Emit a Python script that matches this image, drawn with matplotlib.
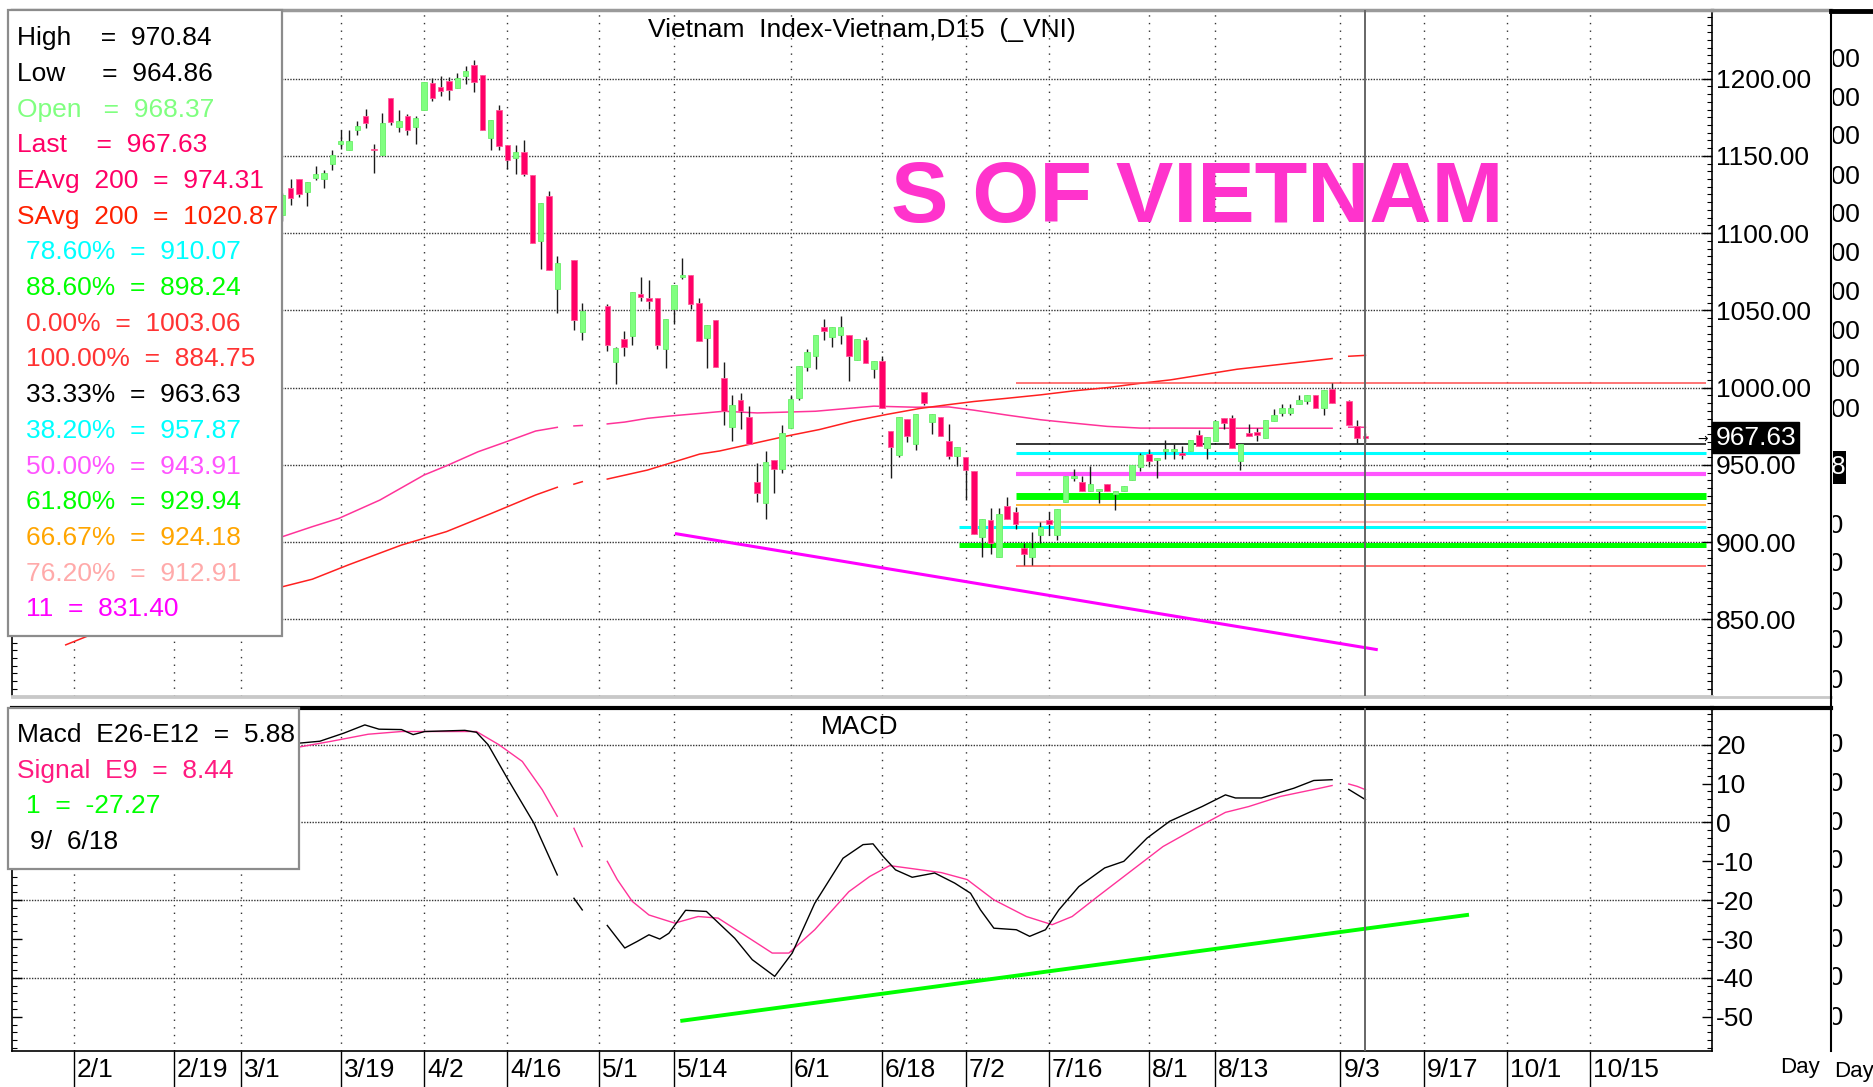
import numpy as np
import matplotlib
matplotlib.use("Agg")
import matplotlib.pyplot as plt
import matplotlib.transforms as mtransforms
from matplotlib import font_manager
from matplotlib.patches import Rectangle
from matplotlib.ticker import MultipleLocator, FixedLocator

W, H, DPI = 1873, 1087, 100

# ---- daily bars, x = trading-day index counted from 2/1 ----
bar_day = list(range(25, 59)) + [60, 61] + list(range(64, 152)) + [153, 154, 155]
bar_open = [1111.6, 1129.3, 1135.3, 1126.7, 1135.7, 1134.7, 1144.6, 1157.5, 1153.6, 1166.6,
            1175.6, 1154.7, 1150.4, 1187.5, 1168.7, 1175.6, 1168.7, 1179.9, 1197.4, 1194.6,
            1198.5, 1194.0, 1201.9, 1208.6, 1202.6, 1161.6, 1179.5, 1157.3, 1148.5, 1152.8,
            1137.7, 1095.0, 1123.7, 1063.8, 1082.5, 1035.7, 1052.5, 1016.7, 1031.4, 1033.6,
            1060.5, 1057.7, 1057.7, 1024.9, 1050.8, 1071.3, 1072.8, 1054.7, 1032.1, 1043.7,
            1006.3, 974.6, 992.3, 981.1, 938.9, 925.5, 953.1, 947.5, 974.0, 993.4,
            1013.4, 1020.7, 1039.2, 1032.8, 1033.8, 1034.3, 1017.7, 1031.0, 1012.3, 1017.5,
            971.8, 956.3, 980.0, 963.2, 997.2, 977.6, 981.2, 965.2, 955.5, 955.3,
            946.3, 903.3, 914.1, 890.4, 923.3, 919.4, 896.2, 890.4, 904.8, 914.1,
            904.8, 925.9, 941.6, 939.2, 932.8, 932.8, 937.3, 931.3, 932.8, 940.5,
            948.4, 957.0, 953.2, 959.1, 959.1, 957.5, 959.1, 969.2, 961.2, 965.5,
            980.6, 980.2, 952.6, 970.9, 971.3, 967.7, 978.4, 983.4, 983.8, 989.7,
            991.4, 995.3, 987.1, 999.4, 991.4, 975.2, 968.37]
bar_high = [1126.0, 1135.3, 1135.3, 1133.2, 1143.3, 1141.1, 1153.6, 1166.6, 1166.6, 1172.6,
            1180.6, 1157.5, 1177.8, 1187.5, 1179.5, 1176.9, 1175.6, 1197.8, 1200.4, 1201.7,
            1201.1, 1203.9, 1208.0, 1211.9, 1202.6, 1173.5, 1182.8, 1157.3, 1157.1, 1160.1,
            1137.7, 1119.8, 1127.4, 1084.9, 1082.5, 1054.7, 1054.1, 1026.5, 1036.8, 1061.6,
            1071.7, 1069.6, 1058.3, 1044.4, 1066.6, 1083.8, 1072.8, 1057.9, 1040.5, 1043.7,
            1016.4, 994.9, 996.2, 988.0, 951.4, 958.9, 953.1, 976.1, 994.9, 1013.8,
            1025.2, 1033.8, 1044.4, 1039.2, 1046.1, 1034.3, 1031.5, 1032.8, 1017.5, 1020.3,
            971.8, 980.9, 980.0, 983.0, 997.2, 983.0, 981.2, 976.4, 961.3, 955.3,
            946.3, 915.1, 922.2, 922.2, 929.5, 922.7, 899.7, 906.6, 913.0, 919.4,
            921.2, 942.6, 947.4, 942.6, 949.5, 934.5, 937.3, 932.8, 936.6, 949.9,
            957.7, 960.3, 954.5, 966.0, 963.4, 962.3, 966.0, 972.6, 968.1, 978.4,
            980.6, 982.3, 963.4, 976.3, 974.1, 979.1, 986.4, 989.7, 989.7, 995.3,
            995.3, 995.3, 998.3, 1002.8, 992.0, 979.1, 970.84]
bar_low = [1108.0, 1118.5, 1123.5, 1117.4, 1134.2, 1129.5, 1140.7, 1154.7, 1153.6, 1163.3,
           1168.3, 1138.6, 1150.4, 1169.8, 1165.5, 1163.8, 1157.5, 1179.9, 1185.6, 1188.6,
           1186.4, 1194.0, 1196.8, 1191.4, 1166.6, 1153.6, 1153.6, 1141.5, 1138.1, 1137.1,
           1093.9, 1076.7, 1076.0, 1048.0, 1037.5, 1030.8, 1023.4, 1002.5, 1020.6, 1027.7,
           1055.8, 1050.8, 1024.9, 1012.7, 1041.1, 1070.2, 1050.8, 1029.9, 1012.7, 1013.5,
           976.1, 965.4, 973.3, 963.2, 926.2, 915.2, 931.5, 944.5, 974.0, 992.3,
           1011.0, 1012.3, 1030.6, 1026.3, 1028.5, 1004.6, 1017.7, 1016.0, 1006.3, 986.5,
           941.2, 955.0, 964.9, 959.3, 988.6, 970.1, 968.5, 953.8, 949.5, 927.0,
           905.5, 890.4, 892.6, 890.4, 914.7, 908.7, 885.5, 885.5, 899.5, 904.8,
           901.6, 925.9, 939.8, 932.8, 932.8, 925.5, 932.8, 920.5, 932.8, 940.5,
           946.3, 949.9, 941.4, 954.1, 954.1, 953.7, 959.1, 962.3, 954.1, 965.5,
           973.1, 960.6, 946.8, 968.8, 965.5, 967.7, 978.4, 981.7, 982.3, 989.7,
           989.2, 987.1, 982.3, 989.9, 975.6, 964.4, 964.86]
bar_close = [1124.5, 1122.4, 1125.6, 1133.2, 1138.1, 1139.2, 1150.4, 1159.5, 1159.5, 1169.4,
             1171.5, 1153.6, 1171.5, 1172.0, 1172.4, 1166.6, 1174.6, 1197.8, 1187.7, 1191.8,
             1192.9, 1200.4, 1204.7, 1197.8, 1166.6, 1173.5, 1156.4, 1147.6, 1152.8, 1138.1,
             1093.9, 1119.8, 1076.0, 1080.6, 1043.7, 1049.7, 1027.7, 1025.6, 1026.0, 1061.6,
             1058.8, 1055.8, 1027.7, 1044.4, 1066.6, 1072.8, 1054.1, 1029.9, 1040.5, 1013.5,
             984.7, 989.0, 984.7, 963.2, 931.5, 952.0, 947.5, 970.7, 992.9, 1013.8,
             1023.1, 1033.8, 1036.4, 1039.2, 1039.2, 1020.7, 1031.5, 1016.0, 1017.5, 986.5,
             961.5, 980.9, 968.6, 983.0, 990.1, 983.0, 968.5, 956.0, 961.3, 946.7,
             905.5, 915.1, 899.7, 918.4, 914.7, 911.5, 892.6, 896.2, 909.8, 911.9,
             921.2, 942.6, 942.6, 932.8, 937.3, 934.5, 932.8, 932.8, 936.6, 949.9,
             956.4, 952.7, 954.5, 960.1, 960.1, 956.3, 966.0, 962.3, 968.1, 978.4,
             977.4, 960.6, 963.4, 968.8, 969.4, 979.1, 982.3, 987.1, 987.1, 992.0,
             995.3, 987.1, 998.3, 989.9, 975.6, 967.2, 967.63]

# ---- moving averages (nan = holiday break) ----
eavg_day = [25, 28.6, 31.8, 36.7, 42, 44.7, 48.5, 51.9, 55.4, 58, np.nan, 60, 61, np.nan,
            64, 66.1, 68.8, 71.5, 75.1, 78, 82, 89, 96, 101, 105, 108, 112, 116, 120, 124,
            128, 132, 140, 151, np.nan, 153, 155]
eavg_val = [903.5, 910.0, 915.4, 927.2, 943.4, 949.4, 958.5, 965.0, 971.9, 974.3, np.nan, 975.2,
            975.5, np.nan, 976.5, 977.7, 980.1, 981.6, 983.3, 984.7, 983.6, 984.7, 988.0, 987.3,
            987.5, 985.4, 982.2, 979.2, 977.0, 974.9, 973.8, 973.8, 973.7, 973.7, np.nan,
            974.4, 974.31]
savg_day = [-1, 2, 25, 28.6, 32.9, 39.3, 44.7, 50.1, 55.4, 58, np.nan, 60, 61, np.nan, 64, 68.8,
            75.1, 77.5, 81.5, 85.5, 89.5, 93.5, 97.5, 101.5, 105, 108, 112, 116, 120, 124, 128,
            131.6, 139.6, 151, np.nan, 153, 155]
savg_val = [833.5, 840.0, 871.1, 876.0, 885.2, 898.1, 906.8, 918.6, 930.5, 935.5, np.nan, 937.5,
            939.1, np.nan, 940.8, 946.6, 957.0, 959.0, 963.8, 968.6, 972.9, 978.3, 982.6, 986.5,
            989.0, 991.0, 993.1, 995.3, 997.9, 1000.0, 1002.8, 1005.0, 1011.9, 1018.8, np.nan,
            1020.3, 1020.87]

# ---- retracement levels ----
fib_level = [1003.06, 884.75, 963.63, 957.87, 943.91, 929.94, 924.18, 912.91, 910.07, 898.24]
fib_start = [113, 113, 113, 113, 113, 113, 113, 113, 106.2, 106.2]
fib_color = ['#FF5050', '#FF5050', '#000000', '#00FFFF', '#FF55FF', '#00FF00',
             '#FFA500', '#FFB4B4', '#00FFFF', '#00FF00']
fib_width = [1.1, 1.1, 1.1, 2.2, 3.0, 5.0, 1.1, 1.5, 2.2, 3.6]

# ---- trendlines ----
price_trend_day = [72.3, 156.3]
price_trend_val = [905.4, 830.5]
macd_trend_day = [73.0, 167.2]
macd_trend_val = [-51.0, -23.8]

# ---- MACD ----
macd_day = [27, 29.5, 32.4, 34.9, 36.6, 39.3, 40.7, 42.1, 46.9, 48.3, 49.7, 52.1, 55.2, 58,
            np.nan, 60, 61, np.nan, 64, 66.1, 67.6, 69, 70.3, 71.4, 73.4, 75.9, 79.3, 81.4, 84.1,
            86.2, 88.9, 92.3, 94.7, 95.9, 97.1, 98.6, 100.6, 103.3, 105.7, 107.6, 108.8, 110.4,
            113.1, 114.7, 116.6, 118.2, 120.6, 123.7, 126, 128.8, 131.5, 135.4, 138.2, 139.4,
            142.5, 146.4, 148.8, 151, np.nan, 153, 155]
macd_val = [20.4, 20.9, 23.0, 25.1, 24.0, 23.9, 22.6, 23.4, 23.7, 23.2, 20.0, 11.0, -0.2, -13.5,
            np.nan, -19.5, -22.5, np.nan, -26.5, -32.3, -30.6, -28.9, -30.0, -28.5, -22.6, -22.9,
            -29.8, -35.3, -39.6, -33.6, -20.8, -9.2, -5.7, -5.5, -8.7, -12.2, -14.1, -13.0, -15.6,
            -18.2, -22.5, -27.2, -27.6, -29.3, -27.6, -22.5, -16.5, -11.7, -10.0, -4.0, 0.3, 4.1,
            7.1, 6.3, 6.3, 8.8, 10.8, 11.0, np.nan, 8.5, 5.88]
signal_day = [27, 30.9, 35.3, 39.3, 48.3, 51, 53.8, 56.2, 58, np.nan, 60, 61, np.nan, 64, 65.2,
              67, 69, 72.1, 74.9, 77.3, 80.7, 83.8, 85.8, 88.9, 93, 95.5, 97.9, 101, 104.1,
              107.2, 110.4, 114.3, 117.4, 119.8, 122.9, 126.8, 130.7, 134.7, 138.2, 141, 144.8,
              149.5, 151, np.nan, 153, 154, 155]
signal_val = [19.4, 20.9, 22.7, 23.4, 23.4, 20.0, 15.7, 8.4, 1.6, np.nan, -1.5, -6.2, np.nan,
              -10.0, -14.7, -20.3, -23.8, -25.9, -24.2, -24.6, -29.3, -33.6, -33.6, -27.6, -17.8,
              -13.9, -11.1, -12.0, -12.9, -14.7, -19.9, -24.2, -26.3, -24.2, -19.0, -12.6, -6.2,
              -1.4, 2.6, 4.1, 6.7, 8.8, 9.5, np.nan, 9.9, 9.3, 8.44]

tick_days = [0, 12, 20, 32, 42, 52, 63, 72, 86, 97, 107, 117, 129, 137, 152, 162, 172, 182]
tick_labels = ['2/1', '2/19', '3/1', '3/19', '4/2', '4/16', '5/1', '5/14', '6/1', '6/18',
               '7/2', '7/16', '8/1', '8/13', '9/3', '9/17', '10/1', '10/15']
price_ticks = [850, 900, 950, 1000, 1050, 1100, 1150, 1200]
macd_ticks = [20, 10, 0, -10, -20, -30, -40, -50]
macd_grid = [20, 0, -20, -40]
cursor_day = 155

legend_rows = [("High    =  970.84", '#000000'), ("Low     =  964.86", '#000000'),
               ("Open   =  968.37", '#80FF80'), ("Last    =  967.63", '#FF0066'),
               ("EAvg  200  =  974.31", '#FF0066'), ("SAvg  200  =  1020.87", '#FF2000'),
               ("78.60%  =  910.07", '#00FFFF'), ("88.60%  =  898.24", '#00FF00'),
               ("0.00%  =  1003.06", '#FF3333'), ("100.00%  =  884.75", '#FF3333'),
               ("33.33%  =  963.63", '#000000'), ("38.20%  =  957.87", '#00FFFF'),
               ("50.00%  =  943.91", '#FF55FF'), ("61.80%  =  929.94", '#00FF00'),
               ("66.67%  =  924.18", '#FFA500'), ("76.20%  =  912.91", '#FFAAAA'),
               ("11  =  831.40", '#FF00FF')]
macd_rows = [("Macd  E26-E12  =  5.88", '#000000'), ("Signal  E9  =  8.44", '#FF1A80'),
             ("1  =  -27.27", '#00FF00'), ("9/  6/18", '#000000')]


def first_installed(names):
    for name in names:
        try:
            font_manager.findfont(font_manager.FontProperties(family=name),
                                  fallback_to_default=False)
            return name
        except ValueError:
            continue
    return 'DejaVu Sans'


NARROW = first_installed(['Liberation Sans Narrow', 'Arial Narrow'])
if NARROW == 'DejaVu Sans':
    # no narrow face: use the regular sans at a smaller size so widths stay close
    BASE, FS = 'Liberation Sans', 19
else:
    BASE, FS = NARROW, 23
plt.rcParams['font.family'] = [BASE, 'DejaVu Sans']


def frac(x0, y0, x1, y1):
    return [x0 / W, 1 - y1 / H, (x1 - x0) / W, (y1 - y0) / H]


fig = plt.figure(figsize=(W / DPI, H / DPI), dpi=DPI)
ax = fig.add_axes(frac(12, 10, 1712, 696))
am = fig.add_axes(frac(12, 708, 1712, 1051))
ov = fig.add_axes([0, 0, 1, 1], zorder=10)
ov.set_xlim(0, W)
ov.set_ylim(H, 0)
ov.axis('off')
strip = fig.add_axes(frac(1833, 10, 1873, 1051), zorder=9)
strip.set_xlim(1833, 1873)
strip.set_ylim(1051, 10)
strip.axis('off')

xlim = (-7.45, 196.6)
grid_h = dict(ls=(0, (1, 1)), lw=1.0, color='#333333', zorder=1)
grid_v = dict(ls=(0, (1, 4.5)), lw=1.0, color='#333333', zorder=1)

# --- price panel ---
ax.set_xlim(*xlim)
ax.set_ylim(800.4, 1244.4)
for v in price_ticks:
    ax.axhline(v, **grid_h)
for t in tick_days:
    ax.axvline(t, **grid_v)

ax.plot(eavg_day, eavg_val, color='#FF3399', lw=1.1, zorder=2)
ax.plot(savg_day, savg_val, color='#FF2020', lw=1.1, zorder=2)

for lvl, st, col, lw in zip(fib_level, fib_start, fib_color, fib_width):
    ax.hlines(lvl, st, 195.9, color=col, lw=lw, zorder=2.5)

ax.plot(price_trend_day, price_trend_val, color='#FF00FF', lw=2.2, zorder=2.6)

d = np.array(bar_day, float)
o = np.array(bar_open)
c = np.array(bar_close)
hi = np.array(bar_high)
lo = np.array(bar_low)
up = c >= o
ax.vlines(d, lo, hi, color='#1a1a1a', lw=1.0, zorder=3)
body_lo = np.minimum(o, c)
body_h = np.maximum(np.abs(c - o), 0.9)
ax.bar(d[up], body_h[up], bottom=body_lo[up], width=0.66, color='#80FF80',
       edgecolor='#6AEE6A', lw=0.6, zorder=4)
ax.bar(d[~up], body_h[~up], bottom=body_lo[~up], width=0.66, color='#FF0066',
       edgecolor='#FF5C9A', lw=0.6, zorder=4)

ax.axvline(cursor_day, color='#666666', lw=1.4, zorder=6)

ax.yaxis.set_major_locator(FixedLocator(price_ticks))
ax.yaxis.set_minor_locator(MultipleLocator(5))
ax.yaxis.set_major_formatter(lambda v, p: f"{v:.2f}")
ax.tick_params(axis='y', which='major', direction='in', length=7, width=1, left=True,
               right=True, labelleft=False, labelright=True, labelsize=FS, pad=3)
ax.tick_params(axis='y', which='minor', direction='in', length=3.5, width=0.8,
               left=True, right=True)
ax.tick_params(axis='x', which='both', bottom=False, top=False, labelbottom=False)
ax.spines['top'].set_color('#9a9a9a')
ax.spines['top'].set_linewidth(2.5)
ax.spines['bottom'].set_color('#c8c8c8')
ax.spines['bottom'].set_linewidth(2)
for s in ('left', 'right'):
    ax.spines[s].set_linewidth(1.2)

lastbox = mtransforms.blended_transform_factory(ax.transAxes, ax.transData)
ax.text(1.002, bar_close[-1], f"{bar_close[-1]:.2f}", transform=lastbox, color='white',
        fontsize=FS, ha='left', va='center', clip_on=False, zorder=8,
        bbox=dict(boxstyle='square,pad=0.12', fc='black', ec='black'))

# --- MACD panel ---
am.set_xlim(*xlim)
am.set_ylim(-58.8, 29.45)
for v in macd_grid:
    am.axhline(v, **grid_h)
for t in tick_days:
    am.axvline(t, **grid_v)
am.plot(macd_trend_day, macd_trend_val, color='#00FF00', lw=2.8, zorder=2)
am.plot(signal_day, signal_val, color='#FF3399', lw=1.0, zorder=3)
am.plot(macd_day, macd_val, color='#000000', lw=1.0, zorder=3)
am.axvline(cursor_day, color='#666666', lw=1.4, zorder=6)

am.yaxis.set_major_locator(FixedLocator(macd_ticks))
am.yaxis.set_minor_locator(MultipleLocator(2))
am.yaxis.set_major_formatter(lambda v, p: f"{int(round(v))}")
am.tick_params(axis='y', which='major', direction='in', length=7, width=1, left=True,
               right=True, labelleft=False, labelright=True, labelsize=FS, pad=3)
am.tick_params(axis='y', which='minor', direction='in', length=3.5, width=0.8,
               left=True, right=True)
am.set_xticks(tick_days)
am.tick_params(axis='x', direction='out', length=26, width=1, labelbottom=False)
am.spines['top'].set_linewidth(3)
for s in ('left', 'right', 'bottom'):
    am.spines[s].set_linewidth(1.2)

lab_tr = mtransforms.blended_transform_factory(am.transData, am.transAxes)
for t, lab in zip(tick_days, tick_labels):
    am.text(t + 0.35, -0.055, lab, transform=lab_tr, ha='left', va='center',
            fontsize=FS, clip_on=False)

# --- frame pieces outside the panels ---
ov.plot([1712, 1831], [10, 10], color='#9a9a9a', lw=2.5)
ov.plot([12, 1831], [697, 697], color='#c8c8c8', lw=2)
ov.plot([1712, 1831], [708, 708], color='black', lw=3)
ov.plot([1831, 1831], [10, 1051], color='black', lw=1.5)
ov.plot([1831, 1873], [11, 11], color='black', lw=3.5)
ov.text(1703, 439, '\u2192', fontsize=9, family='DejaVu Sans', ha='center', va='center')

for yy in [60, 99, 137, 177, 215, 254, 293, 332, 370, 410]:
    strip.text(1860, yy, '100', fontsize=FS, ha='right', va='center', clip_on=True)
for yy in [526, 564, 603, 641, 681, 745, 784, 823, 861, 900, 940, 978, 1018]:
    strip.text(1843, yy, '10', fontsize=FS, ha='right', va='center', clip_on=True)
strip.add_patch(Rectangle((1831, 451), 15, 33, fc='black', ec='none'))
strip.text(1846, 467, '8', fontsize=FS, color='white', ha='right', va='center', clip_on=True)

ov.text(1780, 1067, 'Day', fontsize=16, ha='left', va='center')
ov.text(1834, 1071, 'Day', fontsize=16, ha='left', va='center')

# --- titles ---
ov.text(862, 30, 'Vietnam  Index-Vietnam,D15  (_VNI)', fontsize=FS, ha='center', va='center')
ov.text(860, 727, 'MACD', fontsize=FS, ha='center', va='center')
ov.text(1197, 200, 'S OF VIETNAM', fontsize=62, fontweight='bold', color='#FF33CC',
        family='Liberation Sans', ha='center', va='center')

# --- value boxes ---
ov.add_patch(Rectangle((8, 10), 274, 626, fc='white', ec='#8c8c8c', lw=1.6))
for i, (txt, col) in enumerate(legend_rows):
    x0 = 16.7 if i < 6 else 26
    ov.text(x0, 38.2 + 35.7 * i, txt, color=col, fontsize=FS, ha='left', va='center')

ov.add_patch(Rectangle((8, 708), 291, 161, fc='white', ec='#8c8c8c', lw=1.6))
for i, (txt, col) in enumerate(macd_rows):
    x0 = [16.7, 16.7, 26, 30][i]
    ov.text(x0, 735 + 35.7 * i, txt, color=col, fontsize=FS, ha='left', va='center')

fig.savefig('out.png', dpi=DPI)
